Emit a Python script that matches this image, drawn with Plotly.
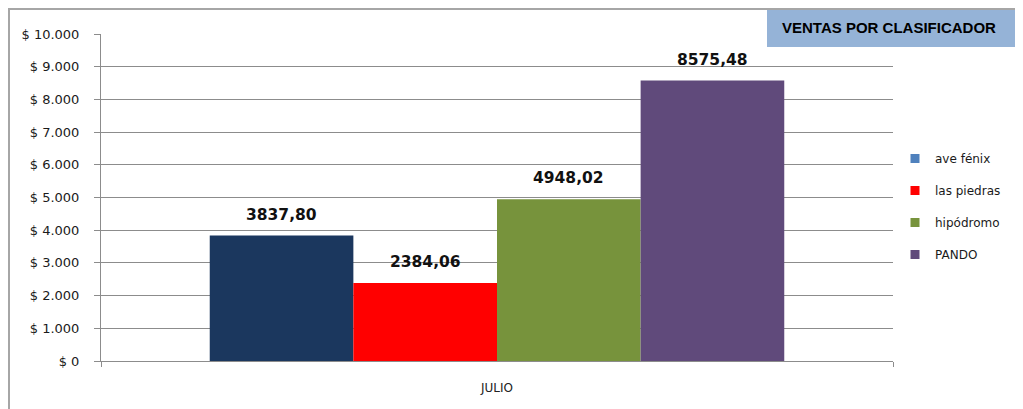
import plotly.graph_objects as go

categories = ["JULIO"]
series_names = ["ave fénix", "las piedras", "hipódromo", "PANDO"]
values = [3837.80, 2384.06, 4948.02, 8575.48]
value_labels = ["3837,80", "2384,06", "4948,02", "8575,48"]
bar_colors = ["#1B375E", "#FF0000", "#77933C", "#604A7B"]
legend_colors = ["#4F81BD", "#FF0000", "#77933C", "#604A7B"]
y_tick_vals = [0, 1000, 2000, 3000, 4000, 5000, 6000, 7000, 8000, 9000, 10000]
y_tick_text = ["$ 0", "$ 1.000", "$ 2.000", "$ 3.000", "$ 4.000", "$ 5.000",
               "$ 6.000", "$ 7.000", "$ 8.000", "$ 9.000", "$ 10.000"]
title_text = "VENTAS POR CLASIFICADOR"

# page is offset by the 8px body margin; work in figure pixels
OFF = 8
W, H = 1023 - OFF, 409 - OFF
L, R, T, B = 101 - OFF, 1023 - 893, 34 - OFF, 409 - 361
pw, ph = W - L - R, H - T - B
BARGAP = 0.2746

def px_x(x):  # page pixel -> paper
    return (x - OFF - L) / pw

def px_y(y):
    return (H - B - (y - OFF)) / ph

fig = go.Figure()
for i, (name, v) in enumerate(zip(series_names, values)):
    fig.add_trace(go.Bar(
        x=categories, y=[v], name=name,
        marker=dict(color=bar_colors[i], line=dict(width=0)),
        showlegend=False,
    ))
for i, name in enumerate(series_names):
    fig.add_trace(go.Scatter(
        x=[None], y=[None], mode="markers", name=name,
        marker=dict(symbol="square", size=9, color=legend_colors[i]),
        legendgroup=name,
    ))

# value labels above each bar, anchored at the bar's value
n = len(values)
group_w = 1 - BARGAP
annotations = []
for i, (v, lab) in enumerate(zip(values, value_labels)):
    xc = -group_w / 2 + (i + 0.5) * group_w / n
    annotations.append(dict(
        x=xc, y=v, xref="x", yref="y", text=lab, showarrow=False,
        xanchor="center", yanchor="bottom", yshift=10,
        font=dict(family="DejaVu Sans", size=15.5, color="#111111", weight="bold"),
    ))

fig.update_layout(
    width=W, height=H,
    margin=dict(l=L, r=R, t=T, b=B, autoexpand=False),
    paper_bgcolor="white", plot_bgcolor="white",
    barmode="group", bargap=BARGAP, bargroupgap=0,
    font=dict(family="DejaVu Sans", size=12, color="#1a1a1a"),
    title=dict(text=title_text, xref="paper", yref="container",
               x=px_x(782), xanchor="left", y=1 - (28 - OFF) / H, yanchor="middle",
               font=dict(family="Liberation Sans", size=15, color="#000000", weight="bold")),
    legend=dict(x=px_x(895), xanchor="left", y=px_y(144), yanchor="top",
                font=dict(family="DejaVu Sans", size=12, color="#1a1a1a"),
                tracegroupgap=13, bgcolor="rgba(0,0,0,0)"),
    xaxis=dict(showline=True, linecolor="#8c8c8c", linewidth=1,
               ticks="outside", tickson="boundaries", ticklen=5, tickcolor="#8c8c8c",
               tickfont=dict(family="DejaVu Sans", size=12, color="#222222"),
               ticklabelstandoff=16, showgrid=False, zeroline=False),
    yaxis=dict(range=[0, 10000], tickvals=y_tick_vals, ticktext=y_tick_text,
               showline=True, linecolor="#8c8c8c", linewidth=1,
               ticks="outside", ticklen=6, tickcolor="#8c8c8c",
               showgrid=True, gridcolor="#8c8c8c", gridwidth=1, zeroline=False,
               tickfont=dict(family="DejaVu Sans", size=13, color="#1a1a1a"),
               ticklabelstandoff=12),
    annotations=annotations,
    shapes=[
        dict(type="rect", xref="paper", yref="paper",
             x0=px_x(9), x1=px_x(1040), y0=px_y(430), y1=px_y(9),
             line=dict(color="#A6A6A6", width=2), fillcolor="rgba(0,0,0,0)", layer="below"),
        dict(type="rect", xref="paper", yref="paper",
             x0=px_x(767), x1=px_x(1040), y0=px_y(47), y1=px_y(10),
             line=dict(width=0), fillcolor="#95B3D7", layer="below"),
    ],
)

fig.write_html("out.html")
